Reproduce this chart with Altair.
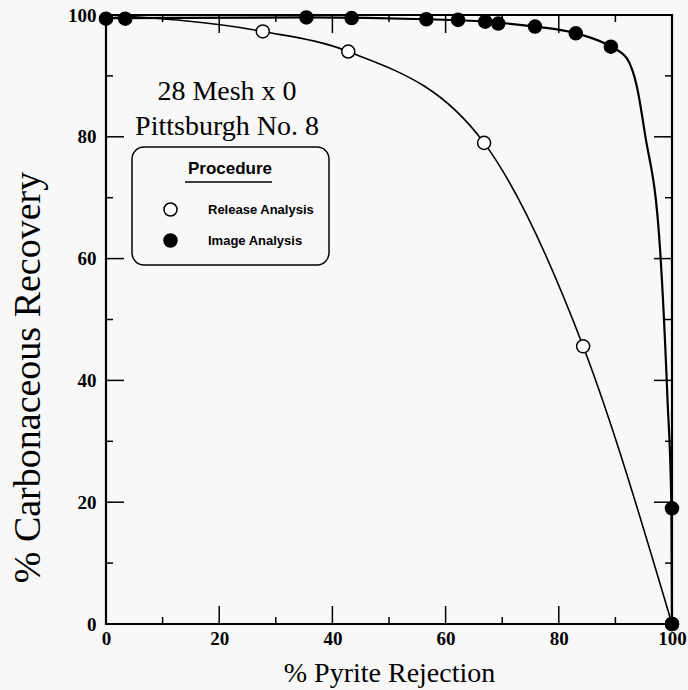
import altair as alt
import pandas as pd

# ---- data ----
release_x = [27.7, 42.8, 66.8, 84.3, 100.0]
release_y = [97.3, 94.0, 79.0, 45.6, 0.0]
image_x = [0.0, 3.4, 35.4, 43.4, 56.6, 62.2, 67.0, 69.3, 75.8, 83.0, 89.2, 100.0, 100.0]
image_y = [99.4, 99.4, 99.6, 99.5, 99.3, 99.2, 98.9, 98.6, 98.1, 97.0, 94.8, 19.0, 0.0]

# fitted curves (knots)
release_fit_x = [0.0, 27.7, 42.8, 66.8, 84.3, 100.0]
release_fit_y = [100.0, 97.3, 94.0, 79.0, 45.6, 0.0]
image_fit_x = [0.0, 35.4, 56.6, 67.0, 75.8, 83.0, 89.2, 92.0, 93.8, 95.2, 97.9, 99.2, 99.9, 100.0]
image_fit_y = [99.5, 99.6, 99.3, 98.9, 98.1, 97.0, 94.8, 92.9, 88.2, 80.6, 61.4, 37.0, 19.0, 0.0]

series_names = ["Release Analysis", "Image Analysis"]
tick_labels = [0, 20, 40, 60, 80, 100]
major_ticks = [20, 40, 60, 80]
minor_ticks = [10, 30, 50, 70, 90]

W, H = 566, 609
SERIF = "Liberation Serif"
SANS = "Liberation Sans"

points = pd.DataFrame({
    "x": release_x + image_x,
    "y": release_y + image_y,
    "series": [series_names[0]] * len(release_x) + [series_names[1]] * len(image_x),
})
release_fit = pd.DataFrame({"x": release_fit_x, "y": release_fit_y})
image_fit = pd.DataFrame({"x": image_fit_x, "y": image_fit_y})

xs = alt.Scale(domain=[0, 100], nice=False, zero=False)
ys = alt.Scale(domain=[0, 100], nice=False, zero=False)

xaxis = alt.Axis(
    values=tick_labels, format="d", ticks=False, domain=False, grid=False,
    labelFont=SERIF, labelFontWeight="bold", labelFontSize=19, labelColor="black",
    labelPadding=5, labelFlush=False,
    title="% Pyrite Rejection", titleFont=SERIF, titleFontSize=28,
    titleFontWeight="normal", titleColor="black", titleBaseline="alphabetic",
    titleY=57, titleX=W / 2, titleAlign="center",
)
yaxis = alt.Axis(
    values=tick_labels, format="d", ticks=False, domain=False, grid=False,
    labelFont=SERIF, labelFontWeight="bold", labelFontSize=19, labelColor="black",
    labelPadding=10, labelFlush=False,
    title="% Carbonaceous Recovery", titleFont=SERIF, titleFontSize=38,
    titleFontWeight="normal", titleColor="black", titleBaseline="alphabetic",
    titleAngle=270, titleX=-67, titleY=362, titleAlign="center",
)


def X(field="x"):
    return alt.X(f"{field}:Q", scale=xs, axis=xaxis)


def Y(field="y"):
    return alt.Y(f"{field}:Q", scale=ys, axis=yaxis)


release_line = alt.Chart(release_fit).mark_line(
    color="black", strokeWidth=1.6, interpolate="monotone"
).encode(x=X(), y=Y())

image_line = alt.Chart(image_fit).mark_line(
    color="black", strokeWidth=2.2, interpolate="monotone"
).encode(x=X(), y=Y())

pts = alt.Chart(points).mark_circle(
    stroke="black", strokeWidth=1.5, opacity=1, size=170
).encode(
    x=X(), y=Y(),
    fill=alt.Fill(
        "series:N",
        scale=alt.Scale(domain=series_names, range=["white", "black"]),
        legend=alt.Legend(title="Procedure"),
    ),
)

# inward ticks on all four sides
xt_major = pd.DataFrame({"x": major_ticks})
xt_minor = pd.DataFrame({"x": minor_ticks})
yt_major = pd.DataFrame({"y": major_ticks})
yt_minor = pd.DataFrame({"y": minor_ticks})

tick_layers = []
for df, L in ((xt_major, 18), (xt_minor, 7)):
    tick_layers.append(alt.Chart(df).mark_rule(color="black", strokeWidth=1.5).encode(
        x=X(), y=alt.value(H), y2=alt.value(H - L)))
    tick_layers.append(alt.Chart(df).mark_rule(color="black", strokeWidth=1.5).encode(
        x=X(), y=alt.value(0), y2=alt.value(L)))
for df, L in ((yt_major, 18), (yt_minor, 7)):
    tick_layers.append(alt.Chart(df).mark_rule(color="black", strokeWidth=1.5).encode(
        y=Y(), x=alt.value(0), x2=alt.value(L)))
    tick_layers.append(alt.Chart(df).mark_rule(color="black", strokeWidth=1.5).encode(
        y=Y(), x=alt.value(W), x2=alt.value(W - L)))

annot = alt.Chart(pd.DataFrame({"t": ["28 Mesh x 0\nPittsburgh No. 8"]})).mark_text(
    font=SERIF, fontSize=28, color="black", align="center", baseline="middle",
    lineBreak="\n", lineHeight=35,
).encode(text="t:N", x=alt.value(121), y=alt.value(77))

underline = alt.Chart(pd.DataFrame({"u": [0]})).mark_rule(color="black", strokeWidth=1.3).encode(
    x=alt.value(79), x2=alt.value(166), y=alt.value(167))

chart = alt.layer(
    *tick_layers, release_line, image_line, pts, annot, underline
).properties(
    width=W, height=H,
    autosize=alt.AutoSizeParams(type="none"),
    padding={"left": 106, "top": 15, "right": 16, "bottom": 66},
    background="#f8f8f8",
).configure_view(
    stroke="black", strokeWidth=2.2
).configure_legend(
    orient="none", legendX=26, legendY=132,
    strokeColor="black", strokeWidth=1.5, cornerRadius=12, padding=14,
    titleFont=SANS, titleFontSize=17, titleFontWeight="bold", titleColor="black",
    titleAnchor="middle", titlePadding=24,
    labelFont=SANS, labelFontSize=13, labelFontWeight="bold", labelColor="black",
    labelOffset=30, symbolOffset=17, rowPadding=10,
    symbolSize=170, symbolType="circle", symbolStrokeColor="black", symbolStrokeWidth=1.5,
)

chart.save("out.html", embed_options={"renderer": "svg", "actions": False})
